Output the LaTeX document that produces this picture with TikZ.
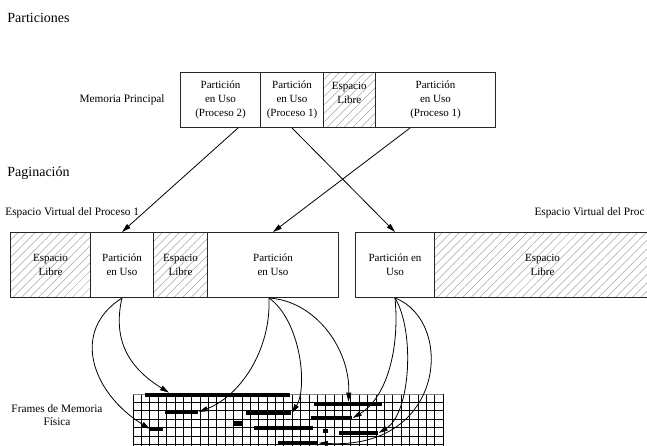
\documentclass[tikz,border=0pt]{standalone}
\usepackage{fontspec}
\setmainfont{Liberation Serif}
\usetikzlibrary{arrows.meta,patterns.meta}
\begin{document}
\begin{tikzpicture}[x=1pt,y=-1pt,>={Triangle[length=9pt,width=5pt]},line width=0.8pt]
\tikzstyle{cell} = [draw=black!85, line width=1pt, inner sep=0pt, anchor=north west, align=center, font=\fontsize{11}{14}\selectfont]
\tikzstyle{libre} = [cell, pattern={Lines[angle=45,distance=6pt,line width=0.5pt]}, pattern color=black!35]
\tikzstyle{frame} = [fill=black, inner sep=0pt, minimum height=4pt, anchor=west]
\tikzstyle{label} = [inner sep=0pt, align=center, font=\fontsize{11.3}{13}\selectfont]
\tikzstyle{title} = [inner sep=0pt, anchor=west, font=\fontsize{14}{16}\selectfont]
\clip (0,0) rectangle (647,446);
\node[title] (t1) at (7,18) {Particiones};
\node[title] (t2) at (7,173) {Paginación};
\node[label, anchor=east] (lmp) at (165,100) {Memoria Principal};
\node[label, anchor=west] (lva) at (5,213) {Espacio Virtual del Proceso 1};
\node[label, anchor=east] (lvb) at (645,213) {Espacio Virtual del Proc};
\node[label] (lfr) at (57,415) {Frames de Memoria\\Física};
\node[cell, minimum width=80pt, minimum height=55pt] (mp1) at (180,72) {Partición\\en Uso\\(Proceso 2)};
\node[cell, minimum width=63pt, minimum height=55pt] (mp2) at (260,72) {Partición\\en Uso\\(Proceso 1)};
\node[libre, minimum width=52pt, minimum height=55pt] (mp3) at (323,72) {Espacio\\Libre\\\phantom{X}};
\node[cell, minimum width=120pt, minimum height=55pt] (mp4) at (375,72) {Partición\\en Uso\\(Proceso 1)};
\node[libre, minimum width=80pt, minimum height=65pt] (va1) at (10,232) {Espacio\\Libre};
\node[cell, minimum width=63pt, minimum height=65pt] (va2) at (90,232) {Partición\\en Uso};
\node[libre, minimum width=54pt, minimum height=65pt] (va3) at (153,232) {Espacio\\Libre};
\node[cell, minimum width=131pt, minimum height=65pt] (va4) at (207,232) {Partición\\en Uso};
\node[cell, minimum width=79pt, minimum height=65pt] (vb1) at (355,232) {Partición en\\Uso};
\node[libre, minimum width=216pt, minimum height=65pt] (vb2) at (434,232) {Espacio\\Libre};
\draw[->] ([xshift=-23pt]mp1.south east) -- (va2.north);
\draw[->] (mp2.south) -- (vb1.north);
\draw[->] ([xshift=35pt]mp4.south west) -- (va4.north);
\foreach \i in {0,...,37}
  \draw (133+8.38*\i,394) -- (133+8.38*\i,446);
\foreach \j in {1,...,6}
  \draw (133,394+8.4*\j) -- (443,394+8.4*\j);
\draw[black!50] (133,394) -- (443,394);
\node[frame, minimum width=145pt] (f1) at (145,395) {};
\node[frame, minimum width=33pt] (f2) at (165,412) {};
\node[frame, minimum width=45pt] (f3) at (246,413) {};
\node[frame, minimum width=68pt] (f4) at (314,404) {};
\node[frame, minimum width=41pt] (f5) at (311,418) {};
\node[frame, minimum width=13pt] (f6) at (150,429) {};
\node[frame, minimum width=8pt, minimum height=5pt] (f7) at (234,423) {};
\node[frame, minimum width=59pt] (f8) at (254,428) {};
\node[frame, minimum width=5pt] (f9) at (323,431) {};
\node[frame, minimum width=39pt] (f10) at (339,433) {};
\node[frame, minimum width=40pt] (f11) at (278,443) {};
\draw[->] (va2.south) .. controls +(-52,33) and +(-58,-36) .. (f6.west);
\draw[->] (va2.south) .. controls +(-10,43) and +(-39,-24) .. ([xshift=24pt]f1.north west);
\draw[->] ([xshift=-4pt]va4.south) .. controls +(2,53) and +(41,-16) .. (f2.east);
\draw[->] ([xshift=-4pt]va4.south) .. controls +(32,23) and +(16,-25) .. (f3.east);
\draw[->] ([xshift=-4pt]va4.south) .. controls +(47,3) and +(2,-52) .. (f4.north);
\draw[->] (vb1.south) .. controls +(5,53) and +(33,-20) .. (f5.east);
\draw[->] (vb1.south) .. controls +(20,33) and +(32,-20) .. (f10.east);
\draw[->] (vb1.south) .. controls +(60,23) and +(127,7) .. (f11.east);
\end{tikzpicture}
\end{document}
